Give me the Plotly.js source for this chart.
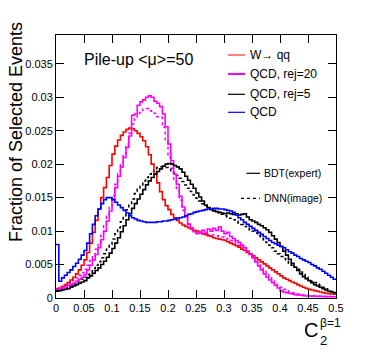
<!DOCTYPE html>
<html>
<head>
<meta charset="utf-8">
<script src="https://cdn.plot.ly/plotly-3.0.1.min.js"></script>
<style>html,body{margin:0;padding:0;background:#fff;}#chart{width:374px;height:352px;}</style>
</head>
<body>
<div id="chart"></div>
<script>
// Histogram binning: 100 bins of width 0.005 on [0, 0.5]
const binWidth = 0.005;
const nBins = 100;

// Values (x 1e-3), one per bin
const wqq = [1.4,1.5,1.7,2.0,2.3,2.7,3.1,3.6,4.2,4.9,
  5.7,6.8,8.2,9.8,11.6,13.3,15.0,16.5,18.0,19.8,
  21.5,22.7,23.6,24.3,24.8,25.2,25.4,25.3,25.0,24.6,
  24.1,23.5,22.6,21.4,20.0,18.6,17.2,15.9,14.7,13.8,
  13.2,12.5,12.0,11.6,11.2,10.9,10.7,10.5,10.3,10.1,
  10.0,9.8,9.6,9.5,9.3,9.2,9.0,8.9,8.8,8.7,
  8.6,8.4,8.2,8.0,7.8,7.6,7.3,7.1,6.8,6.6,
  6.3,6.0,5.7,5.4,5.1,4.8,4.5,4.2,3.9,3.6,
  3.3,3.0,2.8,2.6,2.4,2.2,2.0,1.8,1.6,1.45,
  1.3,1.2,1.1,1.0,0.9,0.8,0.7,0.65,0.6,0.55];

const qcdRej20BDT = [1.3,1.4,1.5,1.7,1.9,2.0,2.2,2.5,2.8,3.1,
  3.5,4.2,4.9,5.7,6.5,7.5,8.7,10.0,11.5,13.0,
  14.7,16.5,18.2,19.6,21.0,22.5,24.2,27.3,27.5,28.8,
  29.3,29.6,30.0,30.2,30.0,29.4,29.1,28.6,27.5,25.6,
  23.0,20.5,18.5,17.0,15.2,13.6,12.2,11.0,10.5,9.9,
  9.6,9.8,10.1,9.7,10.3,10.0,10.4,10.1,10.6,10.0,
  9.6,9.8,9.2,8.9,8.6,8.3,7.9,7.5,7.0,6.5,
  6.0,5.4,4.8,4.2,3.6,3.1,2.7,2.3,1.9,1.5,
  1.1,0.9,0.8,0.7,0.6,0.5,0.45,0.4,0.35,0.3,
  0.3,0.28,0.26,0.25,0.24,0.22,0.2,0.2,0.18,0.18];

const qcdRej20DNN = [1.4,1.5,1.7,1.9,2.1,2.4,2.7,3.0,3.4,3.8,
  4.3,4.9,5.6,6.4,7.3,8.3,9.5,10.8,12.2,13.7,
  15.3,17.0,18.6,20.1,21.6,23.0,24.6,26.0,26.8,27.6,
  28.0,28.2,28.3,28.0,27.9,27.6,27.1,27.0,25.5,23.5,
  21.0,19.4,17.8,16.2,14.6,13.1,12.0,11.1,10.4,10.0,
  9.7,9.6,9.6,9.5,9.5,9.4,9.4,9.3,9.2,9.1,
  9.0,8.8,8.6,8.4,8.2,7.9,7.6,7.3,6.9,6.5,
  6.1,5.7,5.2,4.7,4.2,3.7,3.2,2.7,2.3,1.9,
  1.6,1.3,1.1,0.9,0.8,0.7,0.6,0.5,0.45,0.4,
  0.38,0.35,0.32,0.3,0.28,0.26,0.24,0.22,0.2,0.2];

const qcdRej5BDT = [1.0,1.1,1.2,1.3,1.4,1.6,1.8,2.0,2.2,2.4,
  2.6,3.0,3.3,3.7,4.1,4.5,5.0,5.5,6.1,6.7,
  7.4,8.2,9.0,9.9,10.8,11.7,12.6,13.4,14.1,14.8,
  15.5,16.2,16.9,17.5,18.0,18.5,18.9,19.3,19.7,20.0,
  20.1,20.0,19.8,19.6,19.3,18.8,18.2,17.6,17.0,16.4,
  15.7,15.1,14.5,13.9,13.5,13.2,13.0,12.9,12.8,12.7,
  12.6,12.7,12.6,12.5,12.6,12.4,12.5,12.6,12.1,11.7,
  11.5,11.3,11.0,10.8,10.5,10.2,9.8,9.3,8.8,8.3,
  7.7,7.0,6.4,5.8,5.2,4.6,4.1,3.6,3.2,2.9,
  2.6,2.3,2.0,1.8,1.6,1.4,1.2,1.0,0.9,0.8];

const qcdRej5DNN = [1.1,1.2,1.3,1.4,1.6,1.8,2.0,2.2,2.5,2.8,
  3.1,3.5,3.9,4.4,4.9,5.4,6.0,6.6,7.3,8.0,
  8.8,9.6,10.5,11.4,12.3,13.2,14.0,14.8,15.6,16.3,
  16.9,17.5,18.0,18.5,18.9,19.2,19.5,19.6,19.6,19.5,
  19.3,19.0,18.7,18.3,17.9,17.4,16.9,16.4,15.9,15.4,
  14.9,14.5,14.1,13.8,13.5,13.3,13.1,12.9,12.7,12.5,
  12.3,12.1,11.9,11.7,11.5,11.2,11.0,10.7,10.5,10.2,
  10.0,9.7,9.3,9.0,8.7,8.3,7.9,7.5,7.0,6.6,
  6.2,5.9,5.5,5.2,4.9,4.6,4.3,3.9,3.5,3.1,
  2.8,2.5,2.3,2.1,1.9,1.6,1.4,1.2,1.0,0.8];

const qcd = [8.0,2.5,3.0,3.4,3.8,4.2,4.7,5.2,5.8,6.4,
  7.1,8.2,9.6,11.0,12.3,13.3,14.1,14.7,15.0,15.0,
  14.7,14.3,13.9,13.5,13.1,12.7,12.3,12.0,11.8,11.6,
  11.5,11.4,11.3,11.3,11.3,11.3,11.4,11.4,11.5,11.5,
  11.6,11.7,11.8,11.9,12.0,12.1,12.3,12.5,12.6,12.8,
  12.9,13.0,13.1,13.2,13.3,13.3,13.4,13.4,13.3,13.3,
  13.2,13.1,13.0,12.8,12.4,12.0,11.7,11.3,11.0,10.7,
  10.4,10.1,9.8,9.5,9.2,8.9,8.6,8.3,8.1,7.9,
  7.7,7.5,7.2,6.9,6.7,6.4,6.2,5.9,5.7,5.5,
  5.3,5.0,4.8,4.5,4.3,4.0,3.7,3.4,3.1,2.8];

const yTickVals = [0,0.005,0.01,0.015,0.02,0.025,0.03,0.035];
const yTickText = ["0","0.005","0.01","0.015","0.02","0.025","0.03","0.035"];
const xTickVals = [0,0.05,0.1,0.15,0.2,0.25,0.3,0.35,0.4,0.45,0.5];
const xTickText = ["0","0.05","0.1","0.15","0.2","0.25","0.3","0.35","0.4","0.45","0.5"];

const seriesNames = ["W→ qq","QCD, rej=20","QCD, rej=5","QCD"];
const styleNames = ["BDT(expert)","DNN(image)"];

function stepTrace(vals, color, dash, width, name) {
  const x = [], y = [];
  for (let i = 0; i < nBins; i++) { x.push(i * binWidth); y.push(vals[i] * 1e-3); }
  x.push(nBins * binWidth); y.push(vals[nBins - 1] * 1e-3);
  return {x: x, y: y, type: 'scatter', mode: 'lines', name: name,
    line: {shape: 'hv', color: color, width: width, dash: dash}, showlegend: false};
}

const traces = [
  stepTrace(qcdRej5DNN, '#000000', 'dot', 1.5, seriesNames[2] + ' DNN'),
  stepTrace(qcdRej20DNN, '#ff00ff', 'dot', 1.5, seriesNames[1] + ' DNN'),
  stepTrace(wqq, '#ff0000', 'solid', 1.6, seriesNames[0]),
  stepTrace(qcdRej20BDT, '#ff00ff', 'solid', 1.6, seriesNames[1]),
  stepTrace(qcdRej5BDT, '#000000', 'solid', 1.6, seriesNames[2]),
  stepTrace(qcd, '#0000ff', 'solid', 1.6, seriesNames[3])
];

const F = 'Liberation Sans, Arial, Helvetica, sans-serif';
function px2x(p) { return (p - 56) / 280; }
function px2y(p) { return (298 - p) / 263; }

const annotations = [
  {text: 'Fraction of Selected Events', x: px2x(16), y: px2y(132), xref: 'paper', yref: 'paper',
   textangle: -90, showarrow: false, xanchor: 'center', yanchor: 'middle', font: {family: F, size: 18, color: '#000'}},
  {text: 'Pile-up &lt;μ&gt;=50', x: px2x(82), y: px2y(59), xref: 'paper', yref: 'paper',
   showarrow: false, xanchor: 'left', yanchor: 'middle', font: {family: F, size: 16, color: '#000'}},
  {text: 'C', x: px2x(319), y: px2y(330), xref: 'paper', yref: 'paper', showarrow: false, borderpad: 0,
   xanchor: 'right', yanchor: 'middle', font: {family: F, size: 20, color: '#000'}},
  {text: '2', x: px2x(319), y: px2y(340), xref: 'paper', yref: 'paper', showarrow: false, borderpad: 0,
   xanchor: 'left', yanchor: 'middle', font: {family: F, size: 13, color: '#000'}},
  {text: 'β=1', x: px2x(319), y: px2y(322.5), xref: 'paper', yref: 'paper', showarrow: false, borderpad: 0,
   xanchor: 'left', yanchor: 'middle', font: {family: F, size: 12, color: '#000'}}
];
const legendY = [55, 74, 94.3, 112.3];
const legendColors = ['#ff0000', '#ff00ff', '#000000', '#0000ff'];
const legendWidths = [1, 2, 1.2, 1.2];
const shapes = [];
for (let k = 0; k < 4; k++) {
  annotations.push({text: seriesNames[k], x: px2x(248), y: px2y(legendY[k]), xref: 'paper', yref: 'paper',
    showarrow: false, xanchor: 'left', yanchor: 'middle', font: {family: F, size: 12, color: '#000'}});
  shapes.push({type: 'line', xref: 'paper', yref: 'paper', x0: px2x(228), x1: px2x(245),
    y0: px2y(legendY[k]), y1: px2y(legendY[k]), line: {color: legendColors[k], width: legendWidths[k]}});
}
const styleY = [173.3, 198.3];
const styleX0 = [246.5, 241];
const styleDash = ['solid', 'dot'];
for (let k = 0; k < 2; k++) {
  annotations.push({text: styleNames[k], x: px2x(262), y: px2y(styleY[k]), xref: 'paper', yref: 'paper',
    showarrow: false, xanchor: 'left', yanchor: 'middle', font: {family: F, size: 10.5, color: '#000'}});
  shapes.push({type: 'line', xref: 'paper', yref: 'paper', x0: px2x(styleX0[k]), x1: px2x(260),
    y0: px2y(styleY[k]), y1: px2y(styleY[k]), line: {color: '#000', width: 1.2, dash: styleDash[k]}});
}

const layout = {
  width: 374, height: 352,
  margin: {l: 56, r: 38, t: 35, b: 54, pad: 0},
  paper_bgcolor: '#fff', plot_bgcolor: '#fff',
  font: {family: F, size: 11, color: '#000'},
  showlegend: false,
  xaxis: {range: [0, 0.5], tickvals: xTickVals, ticktext: xTickText, ticks: 'inside', ticklen: 8,
    tickcolor: '#000', showline: true, linecolor: '#000', linewidth: 1, mirror: 'ticks',
    showgrid: false, zeroline: false, tickfont: {family: F, size: 11, color: '#000'}},
  yaxis: {range: [0, 0.0393], tickvals: yTickVals, ticktext: yTickText, ticks: 'inside', ticklen: 8,
    tickcolor: '#000', showline: true, linecolor: '#000', linewidth: 1, mirror: 'ticks',
    showgrid: false, zeroline: false, tickfont: {family: F, size: 11, color: '#000'}},
  annotations: annotations,
  shapes: shapes
};

Plotly.newPlot('chart', traces, layout, {staticPlot: true, displayModeBar: false});
</script>
</body>
</html>
